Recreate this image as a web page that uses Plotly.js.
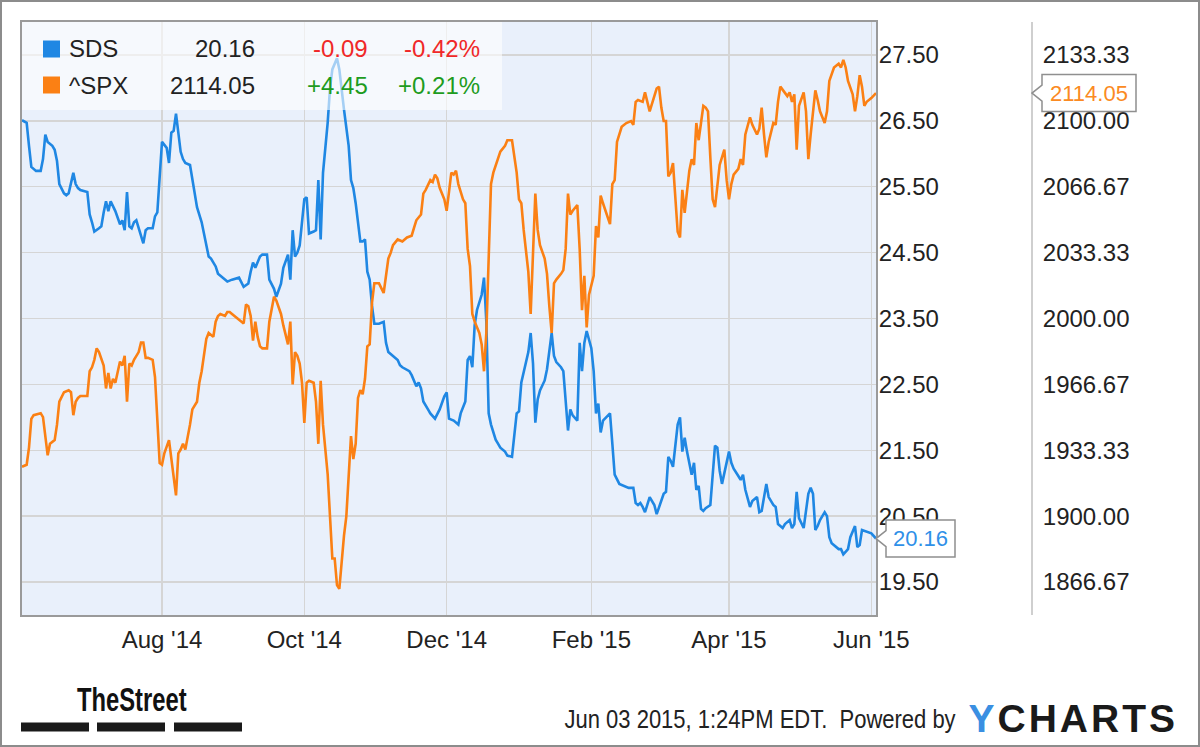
<!DOCTYPE html>
<html>
<head>
<meta charset="utf-8">
<script src="https://cdn.plot.ly/plotly-3.0.1.min.js"></script>
<style>
  html, body { margin: 0; padding: 0; background: #ffffff; }
  #wrap { position: relative; width: 1200px; height: 747px; }
  #chart { position: absolute; left: 0; top: 0; width: 1200px; height: 747px; }
  #frame { position: absolute; left: 0; top: 0; width: 1200px; height: 747px; box-sizing: border-box; border: 2px solid #8c8c8c; pointer-events: none; }
</style>
</head>
<body>
<div id="wrap"><div id="chart"></div><div id="frame"></div></div>
<script>
// ---------------- DATA ----------------
const sdsDates = [
"2014-06-02","2014-06-04","2014-06-05","2014-06-06","2014-06-08","2014-06-10","2014-06-11","2014-06-12","2014-06-13","2014-06-15",
"2014-06-16","2014-06-17","2014-06-18","2014-06-20","2014-06-21","2014-06-22","2014-06-24","2014-06-25","2014-06-26","2014-06-27",
"2014-06-30","2014-07-01","2014-07-02","2014-07-03","2014-07-05","2014-07-06","2014-07-07","2014-07-08","2014-07-09","2014-07-10",
"2014-07-12","2014-07-13","2014-07-14","2014-07-15","2014-07-16","2014-07-17","2014-07-18","2014-07-19","2014-07-20","2014-07-21",
"2014-07-23","2014-07-24","2014-07-25","2014-07-26","2014-07-28","2014-07-29","2014-07-30","2014-07-31","2014-08-01","2014-08-03",
"2014-08-04","2014-08-05","2014-08-06","2014-08-07","2014-08-08","2014-08-09","2014-08-10","2014-08-11","2014-08-13","2014-08-14",
"2014-08-15","2014-08-16","2014-08-18","2014-08-19","2014-08-20","2014-08-21","2014-08-22","2014-08-24","2014-08-25","2014-08-26",
"2014-08-29","2014-08-31","2014-09-03","2014-09-05","2014-09-07","2014-09-08","2014-09-09","2014-09-10","2014-09-12","2014-09-13",
"2014-09-15","2014-09-16","2014-09-18","2014-09-19","2014-09-21","2014-09-22","2014-09-24","2014-09-25","2014-09-26","2014-09-27",
"2014-09-28","2014-09-29","2014-10-01","2014-10-02","2014-10-03","2014-10-05","2014-10-06","2014-10-07","2014-10-08","2014-10-09",
"2014-10-11","2014-10-12","2014-10-13","2014-10-15","2014-10-16","2014-10-18","2014-10-19","2014-10-20","2014-10-21","2014-10-22",
"2014-10-23","2014-10-24","2014-10-25","2014-10-26","2014-10-27","2014-10-28","2014-10-29","2014-10-30","2014-10-31","2014-11-02",
"2014-11-04","2014-11-05","2014-11-06","2014-11-08","2014-11-10","2014-11-11","2014-11-12","2014-11-15","2014-11-16","2014-11-18",
"2014-11-19","2014-11-20","2014-11-21","2014-11-23","2014-11-24","2014-11-26","2014-11-28","2014-11-30","2014-12-01","2014-12-02",
"2014-12-04","2014-12-06","2014-12-07","2014-12-09","2014-12-10","2014-12-11","2014-12-12","2014-12-13","2014-12-14","2014-12-16",
"2014-12-17","2014-12-18","2014-12-19","2014-12-20","2014-12-21","2014-12-22","2014-12-23","2014-12-24","2014-12-26","2014-12-27",
"2014-12-29","2014-12-31","2015-01-01","2015-01-02","2015-01-05","2015-01-06","2015-01-07","2015-01-08","2015-01-09","2015-01-10",
"2015-01-12","2015-01-13","2015-01-15","2015-01-16","2015-01-17","2015-01-19","2015-01-20","2015-01-22","2015-01-23","2015-01-24",
"2015-01-26","2015-01-27","2015-01-28","2015-01-29","2015-01-30","2015-02-01","2015-02-02","2015-02-03","2015-02-04","2015-02-05",
"2015-02-06","2015-02-08","2015-02-09","2015-02-10","2015-02-11","2015-02-13","2015-02-15","2015-02-17","2015-02-19","2015-02-20",
"2015-02-21","2015-02-22","2015-02-23","2015-02-24","2015-02-26","2015-02-28","2015-03-01","2015-03-03","2015-03-04","2015-03-05",
"2015-03-06","2015-03-07","2015-03-08","2015-03-10","2015-03-11","2015-03-12","2015-03-13","2015-03-14","2015-03-15","2015-03-16",
"2015-03-17","2015-03-18","2015-03-19","2015-03-20","2015-03-21","2015-03-22","2015-03-24","2015-03-25","2015-03-26","2015-03-27",
"2015-03-28","2015-03-29","2015-03-31","2015-04-01","2015-04-02","2015-04-03","2015-04-05","2015-04-06","2015-04-07","2015-04-08",
"2015-04-10","2015-04-11","2015-04-13","2015-04-14","2015-04-15","2015-04-17","2015-04-18","2015-04-20","2015-04-21","2015-04-22",
"2015-04-24","2015-04-25","2015-04-27","2015-04-28","2015-04-29","2015-04-30","2015-05-01","2015-05-02","2015-05-03","2015-05-05",
"2015-05-06","2015-05-07","2015-05-08","2015-05-09","2015-05-10","2015-05-12","2015-05-13","2015-05-14","2015-05-15","2015-05-18",
"2015-05-19","2015-05-20","2015-05-22","2015-05-23","2015-05-25","2015-05-26","2015-05-27","2015-05-28","2015-05-30","2015-06-01",
"2015-06-03"];
const sdsValues = [
26.51,26.47,26.12,25.80,25.74,25.74,25.92,26.29,26.18,26.12,
26.06,25.89,25.54,25.40,25.37,25.40,25.71,25.54,25.48,25.45,
25.42,25.08,24.96,24.82,24.87,24.90,25.11,25.28,25.13,25.28,
25.13,25.02,24.93,24.99,24.84,25.42,24.90,24.87,24.96,24.99,
24.73,24.64,24.84,24.87,24.87,25.05,25.11,25.60,26.18,26.09,
25.86,26.32,26.35,26.61,26.29,26.03,25.92,25.86,25.83,25.60,
25.37,25.19,24.96,24.79,24.58,24.44,24.41,24.29,24.18,24.15,
24.06,24.09,24.12,23.98,24.03,24.21,24.35,24.27,24.44,24.47,
24.47,24.09,23.95,23.83,24.03,24.27,24.47,24.09,24.84,24.44,
24.50,24.61,25.31,25.34,24.79,24.82,24.84,25.60,24.70,25.71,
26.47,26.99,27.28,27.45,27.28,26.67,26.41,26.12,25.60,25.48,
25.25,24.96,24.67,24.67,24.70,24.21,24.09,23.69,23.42,23.42,
23.45,23.13,22.99,22.93,22.87,22.79,22.76,22.70,22.64,22.47,
22.53,22.44,22.24,22.12,22.06,21.98,22.12,22.32,22.38,21.98,
21.95,21.89,22.06,22.24,22.87,22.93,22.76,23.40,23.63,23.86,
24.12,23.45,22.06,21.89,21.77,21.66,21.60,21.54,21.48,21.42,
21.40,22.06,22.09,22.53,22.99,23.28,22.82,21.92,22.27,22.41,
22.56,22.73,23.28,22.93,22.84,22.76,22.70,21.80,22.12,22.03,
21.95,23.13,22.70,23.13,23.31,23.05,22.70,22.06,22.21,21.77,
21.95,22.03,22.06,21.60,21.13,20.99,20.96,20.93,20.93,20.70,
20.67,20.70,20.64,20.56,20.79,20.67,20.53,20.73,20.84,20.87,
21.40,21.34,21.25,21.89,22.00,21.48,21.69,21.48,21.31,21.13,
21.31,20.90,20.96,20.61,20.58,20.62,20.67,21.19,21.57,21.54,
21.19,20.99,21.31,21.48,21.31,21.22,21.11,21.05,21.13,20.90,
20.64,20.73,20.79,20.56,20.58,20.99,20.79,20.67,20.64,20.38,
20.32,20.38,20.44,20.32,20.38,20.87,20.47,20.38,20.32,20.84,
20.93,20.84,20.29,20.35,20.44,20.56,20.50,20.18,20.09,20.00,
20.00,19.92,20.00,20.18,20.35,20.03,20.06,20.29,20.27,20.24,
20.16];

const spxDates = [
"2014-06-02","2014-06-04","2014-06-05","2014-06-06","2014-06-07","2014-06-10","2014-06-11","2014-06-12","2014-06-13","2014-06-14",
"2014-06-15","2014-06-16","2014-06-17","2014-06-18","2014-06-20","2014-06-22","2014-06-23","2014-06-24","2014-06-25","2014-06-26",
"2014-06-27","2014-06-28","2014-06-30","2014-07-01","2014-07-02","2014-07-03","2014-07-04","2014-07-05","2014-07-06","2014-07-07",
"2014-07-08","2014-07-09","2014-07-10","2014-07-11","2014-07-12","2014-07-13","2014-07-14","2014-07-15","2014-07-16","2014-07-17",
"2014-07-18","2014-07-19","2014-07-20","2014-07-22","2014-07-23","2014-07-24","2014-07-25","2014-07-26","2014-07-28","2014-07-29",
"2014-07-30","2014-07-31","2014-08-01","2014-08-02","2014-08-04","2014-08-05","2014-08-06","2014-08-07","2014-08-08","2014-08-09",
"2014-08-10","2014-08-11","2014-08-13","2014-08-14","2014-08-16","2014-08-17","2014-08-18","2014-08-19","2014-08-20","2014-08-21",
"2014-08-23","2014-08-24","2014-08-25","2014-08-26","2014-08-28","2014-08-29","2014-08-30","2014-08-31","2014-09-03","2014-09-05",
"2014-09-06","2014-09-07","2014-09-08","2014-09-09","2014-09-10","2014-09-11","2014-09-12","2014-09-13","2014-09-15","2014-09-16",
"2014-09-18","2014-09-19","2014-09-21","2014-09-22","2014-09-24","2014-09-25","2014-09-26","2014-09-27","2014-09-28","2014-09-29",
"2014-09-30","2014-10-01","2014-10-02","2014-10-03","2014-10-05","2014-10-06","2014-10-07","2014-10-08","2014-10-09","2014-10-11",
"2014-10-12","2014-10-13","2014-10-14","2014-10-15","2014-10-16","2014-10-17","2014-10-18","2014-10-19","2014-10-20","2014-10-21",
"2014-10-22","2014-10-23","2014-10-24","2014-10-25","2014-10-26","2014-10-27","2014-10-28","2014-10-29","2014-10-30","2014-10-31",
"2014-11-01","2014-11-02","2014-11-04","2014-11-05","2014-11-06","2014-11-07","2014-11-08","2014-11-10","2014-11-12","2014-11-14",
"2014-11-16","2014-11-17","2014-11-18","2014-11-20","2014-11-21","2014-11-22","2014-11-24","2014-11-25","2014-11-26","2014-11-27",
"2014-11-28","2014-11-30","2014-12-01","2014-12-02","2014-12-03","2014-12-04","2014-12-05","2014-12-06","2014-12-08","2014-12-09",
"2014-12-10","2014-12-11","2014-12-12","2014-12-13","2014-12-15","2014-12-16","2014-12-17","2014-12-18","2014-12-19","2014-12-20",
"2014-12-21","2014-12-22","2014-12-23","2014-12-24","2014-12-26","2014-12-27","2014-12-29","2014-12-31","2015-01-01","2015-01-02",
"2015-01-03","2015-01-05","2015-01-06","2015-01-07","2015-01-08","2015-01-09","2015-01-10","2015-01-12","2015-01-13","2015-01-14",
"2015-01-15","2015-01-16","2015-01-17","2015-01-19","2015-01-20","2015-01-21","2015-01-22","2015-01-23","2015-01-24","2015-01-26",
"2015-01-27","2015-01-28","2015-01-29","2015-01-30","2015-01-31","2015-02-02","2015-02-03","2015-02-04","2015-02-05","2015-02-06",
"2015-02-07","2015-02-09","2015-02-10","2015-02-11","2015-02-12","2015-02-14","2015-02-16","2015-02-18","2015-02-19","2015-02-20",
"2015-02-21","2015-02-23","2015-02-24","2015-02-25","2015-02-26","2015-02-28","2015-03-01","2015-03-02","2015-03-03","2015-03-04",
"2015-03-05","2015-03-06","2015-03-07","2015-03-08","2015-03-09","2015-03-10","2015-03-11","2015-03-12","2015-03-13","2015-03-14",
"2015-03-15","2015-03-16","2015-03-17","2015-03-18","2015-03-19","2015-03-20","2015-03-21","2015-03-22","2015-03-23","2015-03-24",
"2015-03-25","2015-03-26","2015-03-27","2015-03-28","2015-03-30","2015-03-31","2015-04-01","2015-04-02","2015-04-03","2015-04-05",
"2015-04-06","2015-04-07","2015-04-08","2015-04-10","2015-04-11","2015-04-13","2015-04-14","2015-04-15","2015-04-16","2015-04-17",
"2015-04-18","2015-04-20","2015-04-21","2015-04-22","2015-04-23","2015-04-25","2015-04-26","2015-04-27","2015-04-28","2015-04-29",
"2015-04-30","2015-05-01","2015-05-02","2015-05-03","2015-05-04","2015-05-05","2015-05-06","2015-05-08","2015-05-09","2015-05-10",
"2015-05-12","2015-05-13","2015-05-14","2015-05-15","2015-05-16","2015-05-18","2015-05-19","2015-05-20","2015-05-21","2015-05-22",
"2015-05-24","2015-05-25","2015-05-26","2015-05-27","2015-05-28","2015-05-29","2015-05-30","2015-06-01","2015-06-03"];
const spxValues = [
1925.0,1926.0,1934.7,1949.2,1951.1,1952.1,1950.1,1940.5,1930.8,1936.6,
1937.6,1938.5,1946.3,1957.9,1962.7,1963.7,1962.7,1951.1,1957.9,1959.8,
1960.8,1960.8,1960.8,1973.3,1975.3,1979.1,1984.9,1983.0,1980.1,1976.2,
1964.6,1972.4,1964.6,1969.5,1967.5,1972.4,1978.2,1976.2,1981.1,1957.9,
1977.2,1976.2,1979.1,1983.0,1987.8,1987.8,1980.1,1980.1,1979.1,1970.4,
1947.2,1926.9,1926.0,1931.8,1938.5,1928.9,1921.2,1910.5,1931.8,1933.7,
1936.6,1933.7,1946.3,1954.0,1957.9,1967.5,1973.3,1982.0,1989.7,1992.7,
1990.7,1998.4,2001.3,2002.3,2001.3,2003.3,2003.3,2002.3,1999.4,1997.5,
2007.1,2006.2,2001.3,1988.8,1998.4,1990.7,1985.9,1984.9,1984.9,1998.4,
2011.0,2009.1,2002.3,1996.5,1986.9,1998.4,1966.6,1983.0,1981.1,1977.2,
1967.5,1947.2,1967.5,1968.5,1967.5,1957.9,1936.6,1968.5,1946.3,1921.2,
1899.9,1878.6,1878.6,1865.1,1863.2,1878.6,1890.2,1899.9,1919.2,1940.5,
1928.9,1936.6,1959.8,1963.7,1961.7,1969.5,1985.9,1986.9,2008.1,2017.8,
2017.8,2017.8,2012.9,2020.7,2030.3,2033.2,2037.1,2040.0,2039.0,2041.0,
2041.9,2045.8,2049.7,2052.6,2063.2,2065.1,2070.0,2069.0,2072.8,2070.9,
2066.1,2060.3,2054.5,2064.1,2073.8,2072.8,2074.8,2068.0,2060.3,2058.3,
2035.2,2026.5,2002.3,1998.4,1992.7,1986.9,1973.3,1992.7,2035.2,2068.0,
2073.8,2077.7,2080.6,2084.4,2087.3,2090.2,2090.2,2073.8,2060.3,2058.3,
2044.8,2023.6,2002.3,2031.3,2063.2,2044.8,2037.1,2030.3,2022.6,2006.2,
1992.7,2017.8,2019.7,2022.6,2024.5,2035.2,2063.2,2052.6,2054.5,2057.4,
2035.2,2004.2,2021.6,1995.5,2012.0,2021.6,2046.8,2041.0,2062.2,2058.3,
2054.5,2047.7,2068.0,2070.0,2089.3,2097.0,2098.9,2099.9,2098.0,2109.6,
2110.5,2109.6,2114.4,2109.6,2104.8,2112.5,2116.3,2117.3,2106.7,2099.9,
2099.9,2071.9,2073.8,2078.6,2058.3,2043.9,2041.0,2065.1,2053.5,2064.1,
2074.8,2080.6,2077.7,2098.9,2090.2,2098.9,2107.6,2106.7,2104.8,2081.5,
2060.3,2056.4,2066.1,2077.7,2085.4,2070.0,2060.3,2068.0,2072.8,2075.7,
2080.6,2077.7,2093.1,2101.8,2098.0,2093.1,2096.0,2106.7,2093.1,2081.5,
2089.3,2098.9,2098.0,2109.6,2117.3,2114.4,2112.5,2114.4,2109.6,2113.4,
2085.4,2107.6,2111.5,2114.4,2104.8,2080.6,2093.1,2115.4,2110.5,2104.8,
2098.9,2104.8,2120.2,2124.1,2127.0,2128.9,2127.0,2130.8,2127.0,2120.2,
2113.4,2104.8,2112.5,2123.1,2117.3,2107.6,2109.6,2111.5,2114.05];

// legend table
const seriesNames   = ["SDS", "^SPX"];
const seriesLast    = ["20.16", "2114.05"];
const seriesChange  = ["-0.09", "+4.45"];
const seriesPct     = ["-0.42%", "+0.21%"];
const changeColors  = ["#f02828", "#1e9c1e"];
const seriesColors  = ["#1f87e3", "#fb8014"];
const labelColors   = ["#2f90e8", "#fb8a22"];

// axis settings
const xRange   = ["2014-06-02", "2015-06-03"];
const sdsRange = [19.0, 28.0];
const spxRange = [1850, 2150];

// footer texts
const brandText  = "TheStreet";
const stampText  = "Jun 03 2015, 1:24PM EDT.  Powered by";

// ---------------- LAYOUT HELPERS ----------------
const W = 1200, H = 747;
const M = {l: 22, r: 168, t: 22, b: 132};
const plotW = W - M.l - M.r, plotH = H - M.t - M.b;
const PX = x => (x - M.l) / plotW;
const PY = y => (H - M.b - y) / plotH;
const xDomEnd = (876 - M.l) / plotW;
const FONT = "'Liberation Sans', Arial, sans-serif";

const traces = [
  {x: sdsDates, y: sdsValues, type: "scatter", mode: "lines", name: seriesNames[0],
   line: {color: seriesColors[0], width: 2.6}, xaxis: "x", yaxis: "y"},
  {x: spxDates, y: spxValues, type: "scatter", mode: "lines", name: seriesNames[1],
   line: {color: seriesColors[1], width: 2.6}, xaxis: "x", yaxis: "y2"}
];

const shapes = [];
const annotations = [];

// legend background (semi transparent over lines)
shapes.push({type: "rect", xref: "paper", yref: "paper", layer: "above",
  x0: PX(22), x1: PX(502), y0: PY(110), y1: PY(22),
  fillcolor: "rgba(255,255,255,0.6)", line: {width: 0}});

const rowY = [49, 85];
for (let i = 0; i < 2; i++) {
  shapes.push({type: "rect", xref: "paper", yref: "paper", layer: "above",
    x0: PX(43), x1: PX(60), y0: PY(rowY[i] + 8.5), y1: PY(rowY[i] - 8.5),
    fillcolor: seriesColors[i], line: {width: 0}});
  const base = {xref: "paper", yref: "paper", showarrow: false, yanchor: "middle", y: PY(rowY[i])};
  annotations.push(Object.assign({}, base, {x: PX(67), xanchor: "left", text: seriesNames[i],
    font: {family: FONT, size: 24, color: "#222"}}));
  annotations.push(Object.assign({}, base, {x: PX(257), xanchor: "right", text: seriesLast[i],
    font: {family: FONT, size: 24, color: "#222"}}));
  annotations.push(Object.assign({}, base, {x: PX(370), xanchor: "right", text: seriesChange[i],
    font: {family: FONT, size: 24, color: changeColors[i]}}));
  annotations.push(Object.assign({}, base, {x: PX(482), xanchor: "right", text: seriesPct[i],
    font: {family: FONT, size: 24, color: changeColors[i]}}));
}

// last-value callouts
function callout(xAnchor, yVal, yref, boxW, text, color) {
  shapes.push({type: "path", xref: "paper", yref: yref, layer: "above",
    xsizemode: "pixel", ysizemode: "pixel", xanchor: xAnchor, yanchor: yVal,
    path: `M0,0 L10,-8 L10,-18.5 L${10 + boxW},-18.5 L${10 + boxW},18.5 L10,18.5 L10,8 Z`,
    fillcolor: "#ffffff", line: {color: "#8f8f8f", width: 1.5}});
  annotations.push({xref: "paper", yref: yref, x: xAnchor, y: yVal, xanchor: "center", yanchor: "middle",
    xshift: 10 + boxW / 2, showarrow: false, text: text,
    font: {family: FONT, size: 22, color: color}});
}
callout(xDomEnd, sdsValues[sdsValues.length - 1], "y", 69, seriesLast[0], labelColors[0]);
callout(1, spxValues[spxValues.length - 1], "y2", 94, seriesLast[1], labelColors[1]);

// footer
annotations.push({xref: "paper", yref: "paper", x: PX(75), y: PY(699), xanchor: "left", yanchor: "middle",
  showarrow: false, text: "<b>" + brandText + "</b>", font: {family: FONT, size: 33, color: "#111"}});
[[21, 89], [97, 165], [174, 242]].forEach(b => shapes.push({type: "rect", xref: "paper", yref: "paper",
  x0: PX(b[0]), x1: PX(b[1]), y0: PY(731.5), y1: PY(722.5), fillcolor: "#1a1a1a", line: {width: 0}}));
annotations.push({xref: "paper", yref: "paper", x: PX(958), y: PY(719), xanchor: "right", yanchor: "middle",
  showarrow: false, text: stampText, font: {family: FONT, size: 25, color: "#222"}});
annotations.push({xref: "paper", yref: "paper", x: PX(977), y: PY(718), xanchor: "left", yanchor: "middle",
  showarrow: false, text: "<b><span style='color:#3a8fe2'>Y</span>CHARTS</b>", font: {family: FONT, size: 39, color: "#1a1a1a"}});

const layout = {
  width: W, height: H, margin: M,
  paper_bgcolor: "rgba(0,0,0,0)", plot_bgcolor: "#e9f0fb",
  showlegend: false, hovermode: false,
  xaxis: {type: "date", domain: [0, xDomEnd], range: xRange,
    tick0: "2014-08-01", dtick: "M2", tickformat: "%b '%y",
    showgrid: true, gridcolor: "#d5d5d5", gridwidth: 1.5,
    showline: true, mirror: true, linecolor: "#9a9a9a", linewidth: 2,
    ticks: "", ticklabelstandoff: 2,
    tickfont: {family: FONT, size: 24, color: "#222"}, zeroline: false},
  yaxis: {range: sdsRange, side: "right", anchor: "x", tick0: 19.5, dtick: 1, tickformat: ".2f",
    showgrid: true, gridcolor: "#d5d5d5", gridwidth: 1.5,
    showline: true, mirror: true, linecolor: "#9a9a9a", linewidth: 2,
    ticks: "", ticklabelstandoff: -4,
    tickfont: {family: FONT, size: 24, color: "#222"}, zeroline: false},
  yaxis2: {range: spxRange, overlaying: "y", side: "right", anchor: "free", position: 1,
    tick0: 1866.6666667, dtick: 33.3333333, tickformat: ".2f", showgrid: false,
    showline: true, linecolor: "#cfcfcf", linewidth: 2, ticks: "", ticklabelstandoff: 5,
    tickfont: {family: FONT, size: 24, color: "#222"}, zeroline: false},
  shapes: shapes, annotations: annotations
};

// condense / space some footer texts (horizontal scaling, anchors kept)
function squeeze(match, sx, keepRight, spacing) {
  document.querySelectorAll("#chart text.annotation-text").forEach(t => {
    if (t.textContent !== match) return;
    if (spacing) t.style.letterSpacing = spacing + "px";
    if (sx !== 1) {
      const b = t.getBBox();
      const ax = keepRight ? b.x + b.width : b.x;
      t.setAttribute("transform", `translate(${ax * (1 - sx)},0) scale(${sx},1)`);
    }
  });
}

Plotly.newPlot("chart", traces, layout, {staticPlot: true, displayModeBar: false}).then(() => {
  squeeze(brandText, 0.72, false, 0);
  squeeze(stampText, 0.88, true, 0);
  squeeze("YCHARTS", 1, false, 3);
});
</script>
</body>
</html>
